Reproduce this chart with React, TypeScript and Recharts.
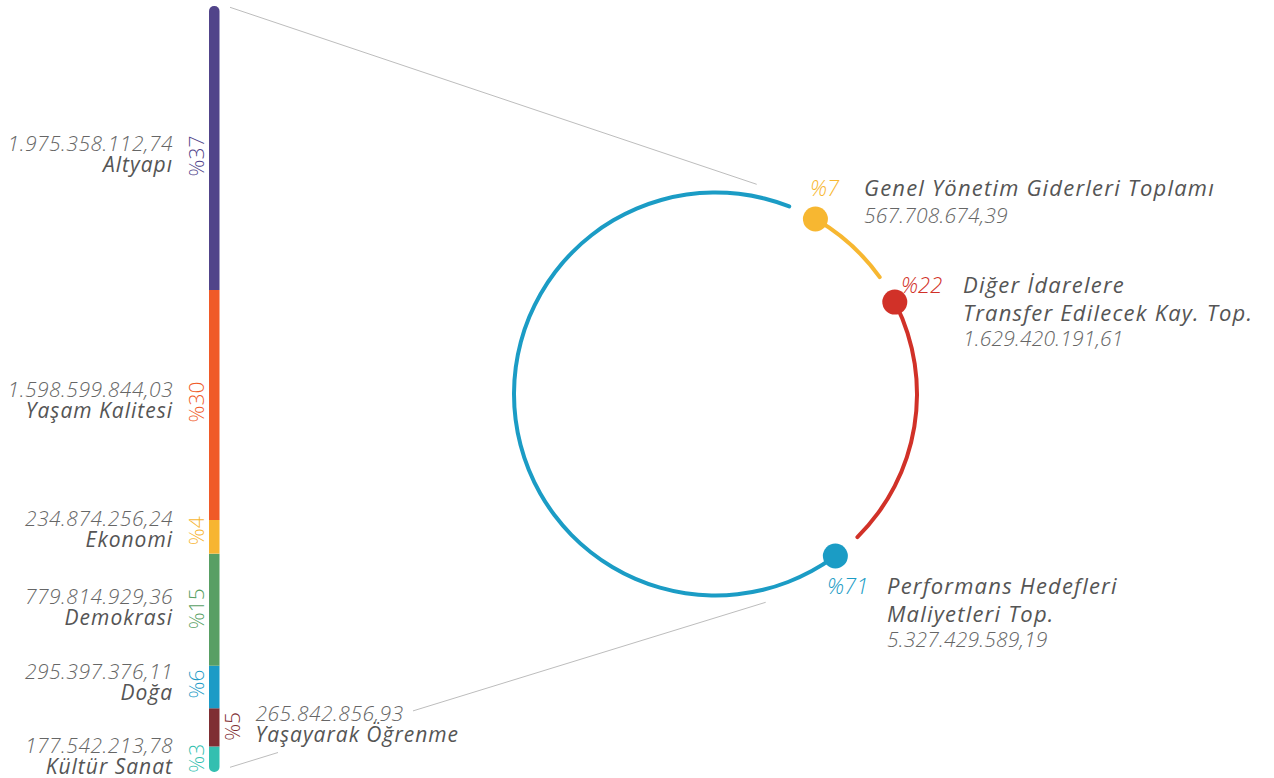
import React from 'react';
import { BarChart, Bar, XAxis, YAxis, LabelList, PieChart, Pie, Cell } from 'recharts';

// ---------- Left stacked bar: performans hedefleri by goal (bottom -> top) ----------
const goalNames = ['Kültür Sanat', 'Yaşayarak Öğrenme', 'Doğa', 'Demokrasi', 'Ekonomi', 'Yaşam Kalitesi', 'Altyapı'];
const goalValues = [177542213.78, 265842856.93, 295397376.11, 779814929.36, 234874256.24, 1598599844.03, 1975358112.74];
const goalValueLabels = ['177.542.213,78', '265.842.856,93', '295.397.376,11', '779.814.929,36', '234.874.256,24', '1.598.599.844,03', '1.975.358.112,74'];
const goalPercentLabels = ['%3', '%5', '%6', '%15', '%4', '%30', '%37'];

// ---------- Right ring: budget split (clockwise from the blue dot) ----------
const ringNames = ['Performans Hedefleri Maliyetleri Top.', 'Genel Yönetim Giderleri Toplamı', 'Diğer İdarelere Transfer Edilecek Kay. Top.'];
const ringNameLines = [['Performans Hedefleri', 'Maliyetleri Top.'], ['Genel Yönetim Giderleri Toplamı'], ['Diğer İdarelere', 'Transfer Edilecek Kay. Top.']];
const ringValues = [5327429589.19, 567708674.39, 1629420191.61];
const ringValueLabels = ['5.327.429.589,19', '567.708.674,39', '1.629.420.191,61'];
const ringPercentLabels = ['%71', '%7', '%22'];

// ---------- styles / layout ----------
const goalColors = ['#33bfb0', '#7f2e33', '#1c9bc6', '#589f64', '#f7b532', '#f05a28', '#51448a'];
const ringColors = ['#1b9cc5', '#f7b731', '#d13128'];
const FONT = '"Open Sans", Roboto, sans-serif';
const NAME_COLOR = '#555555';
const VALUE_COLOR = '#666666';
const RIGHT_SIDE_GOAL = 1; // Yaşayarak Öğrenme label sits right of the bar
const goalLabelNudge = [1, 1, -1, 1, -4, -1, 10];

// right-side ring label layout: [percentX, textX, firstBaseline]
const ringLabelLayout: [number, number, number][] = [
  [827, 887, 594],
  [810, 864, 196],
  [901, 963, 293],
];

const barRow: Record<string, number | string> = { cat: 'Performans' };
goalValues.forEach((v, i) => { barRow['g' + i] = v; });
const barData = [barRow];
const goalTotal = goalValues.reduce((a, b) => a + b, 0);

const ringData = ringNames.map((n, i) => ({ name: n, value: ringValues[i] }));

const makeGoalLabel = (i: number) => (props: any) => {
  const vb = props.viewBox && props.viewBox.height !== undefined ? props.viewBox : props;
  const x = Number(vb.x);
  const y = Number(vb.y);
  const w = Number(vb.width);
  const h = Number(vb.height);
  const c = y + h / 2;
  const right = i === RIGHT_SIDE_GOAL;
  const px = right ? x + w + 21 : x - 5;
  const tx = right ? x + w + 36 : x - 36;
  const anchor = right ? 'start' : 'end';
  const vy = c - 7 + goalLabelNudge[i];
  const pc = vy + 5;
  return (
    <g>
      <text
        x={px}
        y={pc}
        transform={`rotate(-90, ${px}, ${pc})`}
        textAnchor="middle"
        fontFamily={FONT}
        fontSize={21}
        fontWeight={300}
        fill={goalColors[i]}
      >
        {goalPercentLabels[i]}
      </text>
      <text x={tx} y={vy} textAnchor={anchor} fontFamily={FONT} fontSize={21} fontStyle="italic" fontWeight={300} letterSpacing={0.5} fill={VALUE_COLOR}>
        {goalValueLabels[i]}
      </text>
      <text x={tx} y={vy + 21} textAnchor={anchor} fontFamily={FONT} fontSize={21} fontStyle="italic" fontWeight={500} letterSpacing={1} fill={NAME_COLOR}>
        {goalNames[i]}
      </text>
    </g>
  );
};

const renderRingDot = (props: any) => {
  const { cx, cy, startAngle, innerRadius, outerRadius, index } = props;
  const r = (Number(innerRadius) + Number(outerRadius)) / 2;
  const rad = Math.PI / 180;
  const x = Number(cx) + r * Math.cos(-Number(startAngle) * rad);
  const y = Number(cy) + r * Math.sin(-Number(startAngle) * rad);
  return <circle cx={x} cy={y} r={12.5} fill={ringColors[index]} stroke="none" />;
};

export default function App() {
  return (
    <div style={{ position: 'absolute', left: 0, top: 0, width: 1274, height: 778, background: '#ffffff', fontFamily: FONT }}>
      <svg width={1274} height={778} style={{ position: 'absolute', left: 0, top: 0 }}>
        <line x1={230} y1={7.3} x2={756.7} y2={184.3} stroke="#bdbdbd" strokeWidth={1} />
        <line x1={230} y1={767.3} x2={278} y2={752.5} stroke="#bdbdbd" strokeWidth={1} />
        <line x1={413} y1={710.9} x2={765.7} y2={602.3} stroke="#bdbdbd" strokeWidth={1} />
        {ringNames.map((n, i) => {
          const [px, tx, by] = ringLabelLayout[i];
          const lines = ringNameLines[i];
          return (
            <g key={n}>
              <text x={px} y={by} fontFamily={FONT} fontSize={22} fontStyle="italic" fontWeight={300} fill={ringColors[i]}>
                {ringPercentLabels[i]}
              </text>
              {lines.map((l, k) => (
                <text key={l} x={tx} y={by + k * 28} fontFamily={FONT} fontSize={22} fontStyle="italic" fontWeight={400} letterSpacing={1.2} fill={NAME_COLOR}>
                  {l}
                </text>
              ))}
              <text x={tx} y={by + lines.length * 26.5} fontFamily={FONT} fontSize={21} fontStyle="italic" fontWeight={300} letterSpacing={0.2} fill={VALUE_COLOR}>
                {ringValueLabels[i]}
              </text>
            </g>
          );
        })}
      </svg>

      <div style={{ position: 'absolute', left: 0, top: 0 }}>
        <BarChart width={480} height={778} data={barData} margin={{ top: 6, bottom: 6, left: 199, right: 251 }} barSize={10.5}>
          <XAxis dataKey="cat" hide />
          <YAxis hide type="number" domain={[0, goalTotal]} allowDataOverflow />
          {goalValues.map((_, i) => (
            <Bar
              key={'g' + i}
              dataKey={'g' + i}
              stackId="s"
              fill={goalColors[i]}
              isAnimationActive={false}
              radius={i === 0 ? [0, 0, 5, 5] : i === goalValues.length - 1 ? [5, 5, 0, 0] : 0}
            >
              <LabelList dataKey={'g' + i} content={makeGoalLabel(i)} />
            </Bar>
          ))}
        </BarChart>
      </div>

      <div style={{ position: 'absolute', left: 480, top: 0 }}>
        <PieChart width={794} height={778} margin={{ top: 0, right: 0, bottom: 0, left: 0 }}>
          <Pie
            data={ringData}
            dataKey="value"
            nameKey="name"
            cx={235.5}
            cy={394}
            innerRadius={199.5}
            outerRadius={203.5}
            startAngle={-53.5}
            endAngle={-413.5}
            paddingAngle={7.7}
            cornerRadius={2}
            stroke="none"
            isAnimationActive={false}
            label={renderRingDot}
            labelLine={false}
          >
            {ringData.map((d, i) => (
              <Cell key={d.name} fill={ringColors[i]} />
            ))}
          </Pie>
        </PieChart>
      </div>
    </div>
  );
}
